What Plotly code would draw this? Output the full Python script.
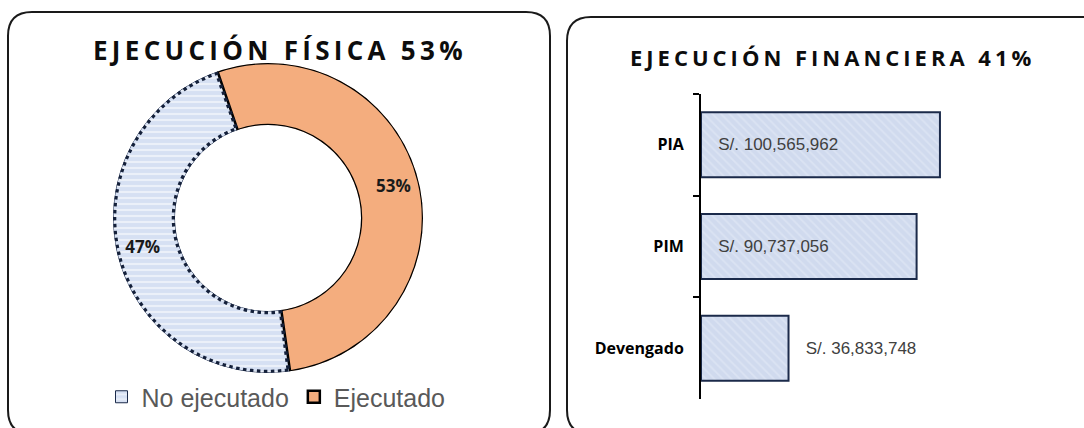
import numpy as np
import plotly.graph_objects as go

# ---------------- data ----------------
fis_labels = ["No ejecutado", "Ejecutado"]
fis_values = [47, 53]
fin_categories = ["PIA", "PIM", "Devengado"]
fin_values = [100565962, 90737056, 36833748]
title_fis = "EJECUCIÓN FÍSICA 53%"
title_fin = "EJECUCIÓN FINANCIERA 41%"

# ---------------- geometry helpers ----------------
W, H = 1084, 428


def px(x):
    return x / W


def py(y):
    return 1 - y / H


SPLIT = -19          # angle (deg, clockwise from 12 o'clock) where "Ejecutado" begins
HOLE = 0.6
pie_cx, pie_cy, pie_r = 268, 218, 155
pie_dom_x = [px(pie_cx - pie_r), px(pie_cx + pie_r)]
pie_dom_y = [py(pie_cy + pie_r), py(pie_cy - pie_r)]

total = sum(fis_values)
share = [v / total for v in fis_values]
span_ej = 360 * share[1]
span_no = 360 * share[0]
start_ej = SPLIT
start_no = SPLIT + span_ej
mid_ej = start_ej + span_ej / 2
mid_no = start_no + span_no / 2

fig = go.Figure()

# donut ring: one polar bar per slice
fig.add_trace(go.Barpolar(
    name=fis_labels[0], r=[1], theta=[mid_no], width=[span_no], subplot="polar",
    marker=dict(color="#d8e2f4", line=dict(color="#1b2a4a", width=1),
                pattern=dict(shape="-", fgcolor="#ffffff", bgcolor="#d6e0f3",
                             size=6, solidity=0.35)),
    hoverinfo="skip"))
fig.add_trace(go.Barpolar(
    name=fis_labels[1], r=[1], theta=[mid_ej], width=[span_ej], subplot="polar",
    marker=dict(color="#f4ad7e", line=dict(color="#000000", width=2.5)),
    hoverinfo="skip"))

# dotted outline of the "No ejecutado" slice (kept just inside the ring so the
# polar clip does not cut the dots in half)
R_OUT, R_IN = 0.975, 0.025
arc = np.linspace(start_no + 0.6, start_no + span_no - 0.6, 160)
theta = np.concatenate([arc, arc[::-1], [arc[0]]])
rr = np.concatenate([np.full_like(arc, R_OUT), np.full_like(arc, R_IN), [R_OUT]])
fig.add_trace(go.Scatterpolar(
    r=rr, theta=theta, mode="lines", subplot="polar",
    line=dict(color="#14203a", width=3.5, dash="dot"),
    showlegend=False, hoverinfo="skip", cliponaxis=False))

# percentage labels
fig.add_trace(go.Scatterpolar(
    r=[0.58, 0.58], theta=[mid_no, mid_ej], mode="text", subplot="polar",
    text=[f"{round(s * 100)}%" for s in share],
    textfont=dict(family="Open Sans", size=17, color="#1a1a1a", weight=700),
    showlegend=False, hoverinfo="skip", cliponaxis=False))

fig.add_trace(go.Bar(
    y=fin_categories, x=fin_values, orientation="h", xaxis="x", yaxis="y",
    marker=dict(color="#d0daee", line=dict(color="#1b2a4a", width=2),
                pattern=dict(shape="\\", fgcolor="#e6ecf7", bgcolor="#d0daee", size=6, solidity=0.3)),
    texttemplate="\u00a0\u00a0\u00a0S/. %{x:,}",
    textposition=["inside", "inside", "outside"], insidetextanchor="start",
    textfont=dict(family="Liberation Sans Narrow, Liberation Sans, Arial", size=17, color="#404040"),
    constraintext="none", cliponaxis=False, width=0.64,
    showlegend=False, hoverinfo="skip"))


def rounded_path(x0, y0, x1, y1, r):
    pts = [
        f"M {px(x0 + r)} {py(y0)}",
        f"L {px(x1 - r)} {py(y0)}",
        f"Q {px(x1)} {py(y0)} {px(x1)} {py(y0 + r)}",
        f"L {px(x1)} {py(y1 - r)}",
        f"Q {px(x1)} {py(y1)} {px(x1 - r)} {py(y1)}",
        f"L {px(x0 + r)} {py(y1)}",
        f"Q {px(x0)} {py(y1)} {px(x0)} {py(y1 - r)}",
        f"L {px(x0)} {py(y0 + r)}",
        f"Q {px(x0)} {py(y0)} {px(x0 + r)} {py(y0)}",
        "Z",
    ]
    return " ".join(pts)


shapes = [
    dict(type="path", xref="paper", yref="paper", path=rounded_path(8, 12, 550, 434, 24),
         line=dict(color="#1a1a1a", width=2), fillcolor="rgba(0,0,0,0)", layer="below"),
    dict(type="path", xref="paper", yref="paper", path=rounded_path(567, 17, 1110, 434, 24),
         line=dict(color="#1a1a1a", width=2), fillcolor="rgba(0,0,0,0)", layer="below"),
]

annotations = [
    dict(text=f'<span style="letter-spacing:4.3px">{title_fis}</span>', x=px(280), y=py(50),
         xref="paper", yref="paper", xanchor="center", yanchor="middle", showarrow=False,
         font=dict(family="Open Sans", size=26, color="#0d0d0d", weight=700)),
    dict(text=f'<span style="letter-spacing:4px">{title_fin}</span>', x=px(832), y=py(57),
         xref="paper", yref="paper", xanchor="center", yanchor="middle", showarrow=False,
         font=dict(family="Open Sans", size=22, color="#0d0d0d", weight=700)),
]

fig.update_layout(
    width=W, height=H, margin=dict(l=0, r=0, t=0, b=0),
    paper_bgcolor="white", plot_bgcolor="rgba(0,0,0,0)",
    xaxis=dict(domain=[px(701), px(1070)], range=[0, 155.3e6], visible=False, anchor="y"),
    yaxis=dict(domain=[py(399), py(94)], autorange="reversed", anchor="x",
               showline=True, linewidth=2, linecolor="#000000",
               ticks="outside", tickson="boundaries", ticklen=6, tickwidth=2, tickcolor="#000000",
               tickfont=dict(family="Open Sans", size=16, color="#000000", weight=700),
               ticklabelstandoff=12, showgrid=False, zeroline=False),
    polar=dict(domain=dict(x=pie_dom_x, y=pie_dom_y), hole=HOLE, bgcolor="rgba(0,0,0,0)",
               bargap=0,
               radialaxis=dict(visible=False, range=[0, 1]),
               angularaxis=dict(visible=False, rotation=90, direction="clockwise")),
    legend=dict(orientation="h", x=px(276), xanchor="center", y=py(397), yanchor="middle",
                font=dict(family="Liberation Sans, Arial", size=25, color="#595959"),
                bgcolor="rgba(0,0,0,0)"),
    shapes=shapes, annotations=annotations,
)

fig.write_html("out.html")
